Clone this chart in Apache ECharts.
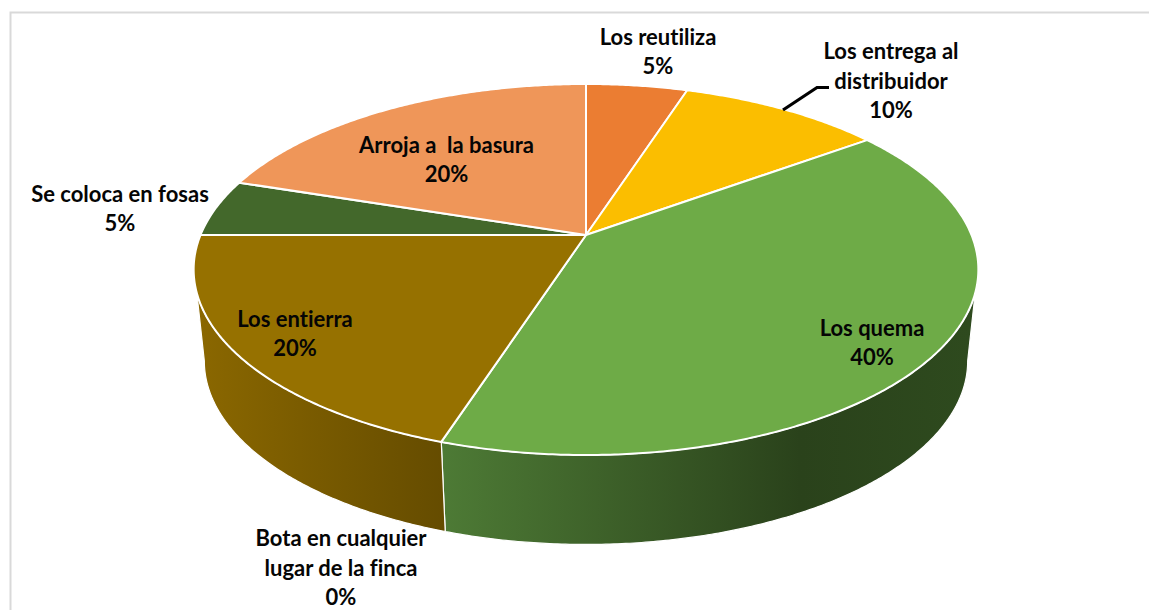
<!DOCTYPE html>
<html>
<head>
<meta charset="utf-8">
<style>html,body{margin:0;padding:0;background:#fff}#c{width:1149px;height:610px}
#c text{font-variant-ligatures:none !important;font-feature-settings:"liga" 0, "clig" 0 !important;}</style>
<script src="https://cdn.jsdelivr.net/npm/echarts@6/dist/echarts.min.js"></script>
</head>
<body>
<div id="c"></div>
<script>
var categories = ['Los reutiliza','Los entrega al\ndistribuidor','Los quema','Bota en cualquier\nlugar de la finca','Los entierra','Se coloca en fosas','Arroja a  la basura'];
var values = [5,10,40,0,20,5,20];

var topColors = ['#EB7D32','#FBBE00','#6EAB47','#5B5B5B','#967100','#43682B','#EF9659'];
var wallStops = {
  2: [[445,'#4D7A35'],[800,'#2A421B'],[970,'#2E4A1E']],
  4: [[200,'#8A6700'],[445,'#654C00']]
};
var labelCenters = [[658,51],[891,80],[872,342],[341,567],[295,333],[120,208],[446.5,159]];

// tilted-disc projection of the pie: a unit circle seen in perspective
var topDisc = {cx:586, cy:235, a:385.5, b:179.1, k:0.186};
var baseDisc = {cx:586, cy:327, a:375, b:177, k:0.186};
var total = values.reduce(function(s,v){return s+v;},0);

function project(d, deg){
  var t = deg*Math.PI/180, u = Math.sin(t), v = Math.cos(t), w = 1 + d.k*v;
  return [d.cx + d.a*u/w, d.cy - d.b*v/w];
}
function arc(d, from, to){
  var n = Math.max(2, Math.ceil(Math.abs(to-from)*2)), pts = [];
  for (var i=0;i<=n;i++) pts.push(project(d, from+(to-from)*i/n));
  return pts;
}
function sweep(index){
  var s = 0;
  for (var i=0;i<index;i++) s += values[i];
  return [s/total*360, (s+values[index])/total*360];
}
var sideTop = [107.8, 252.2], sideBase = [100.7, 259.3];

function renderWall(params, api){
  var i = api.value(0), sw = sweep(i), stops = wallStops[i];
  var t0 = Math.max(sw[0], sideTop[0]), t1 = Math.min(sw[1], sideTop[1]);
  if (!stops || t1 <= t0) return {type:'group', children:[]};
  var b0 = sw[0] <= sideTop[0] ? sideBase[0] : sw[0];
  var b1 = sw[1] >= sideTop[1] ? sideBase[1] : sw[1];
  var pts = arc(topDisc,t0,t1).concat(arc(baseDisc,b1,b0));
  var x0 = stops[0][0], x1 = stops[stops.length-1][0];
  var grad = new echarts.graphic.LinearGradient(x0,0,x1,0,stops.map(function(s){
    return {offset:(s[0]-x0)/(x1-x0), color:s[1]};
  }),true);
  return {type:'polygon', shape:{points:pts}, style:{fill:grad, stroke:'#fff', lineWidth:1.2, lineJoin:'round'}};
}
function renderTop(params, api){
  var i = api.value(0), v = api.value(1), sw = sweep(i), children = [];
  if (v > 0) {
    children.push({type:'polygon', shape:{points:[[topDisc.cx,topDisc.cy]].concat(arc(topDisc,sw[0],sw[1]))},
      style:{fill:topColors[i], stroke:'#fff', lineWidth:2, lineJoin:'round'}});
  }
  return {type:'group', children:children};
}
function renderLabel(params, api){
  var i = api.value(0), c = labelCenters[i];
  return {type:'text', x:c[0], y:c[1], z2:10, style:{
    text:categories[i]+'\n'+api.value(1)+'%', align:'center', verticalAlign:'middle',
    font:'bold 22px Lato, "Open Sans", sans-serif', lineHeight:29.2, fill:'#050505'}};
}
var rows = values.map(function(v,i){return [i,v];});
var chart = echarts.init(document.getElementById('c'), null, {renderer:'svg'});
chart.setOption({
  animation:false,
  backgroundColor:'#fff',
  graphic:[
    {type:'polyline', silent:true, z:0, shape:{points:[[10.5,610],[10.5,12.5],[1149,12.5]]}, style:{stroke:'#D9D9D9', lineWidth:2, fill:null}},
    {type:'polyline', silent:true, z:20, shape:{points:[[783,110],[817,87.5],[829,87.5]]}, style:{stroke:'#000', lineWidth:3.2, fill:null}}
  ],
  series:[
    {type:'custom', coordinateSystem:'none', silent:true, z:2, data:rows, renderItem:renderWall},
    {type:'custom', coordinateSystem:'none', silent:true, z:3, data:rows, renderItem:renderTop},
    {type:'custom', coordinateSystem:'none', silent:true, z:4, data:rows, renderItem:renderLabel}
  ]
});
</script>
</body>
</html>
